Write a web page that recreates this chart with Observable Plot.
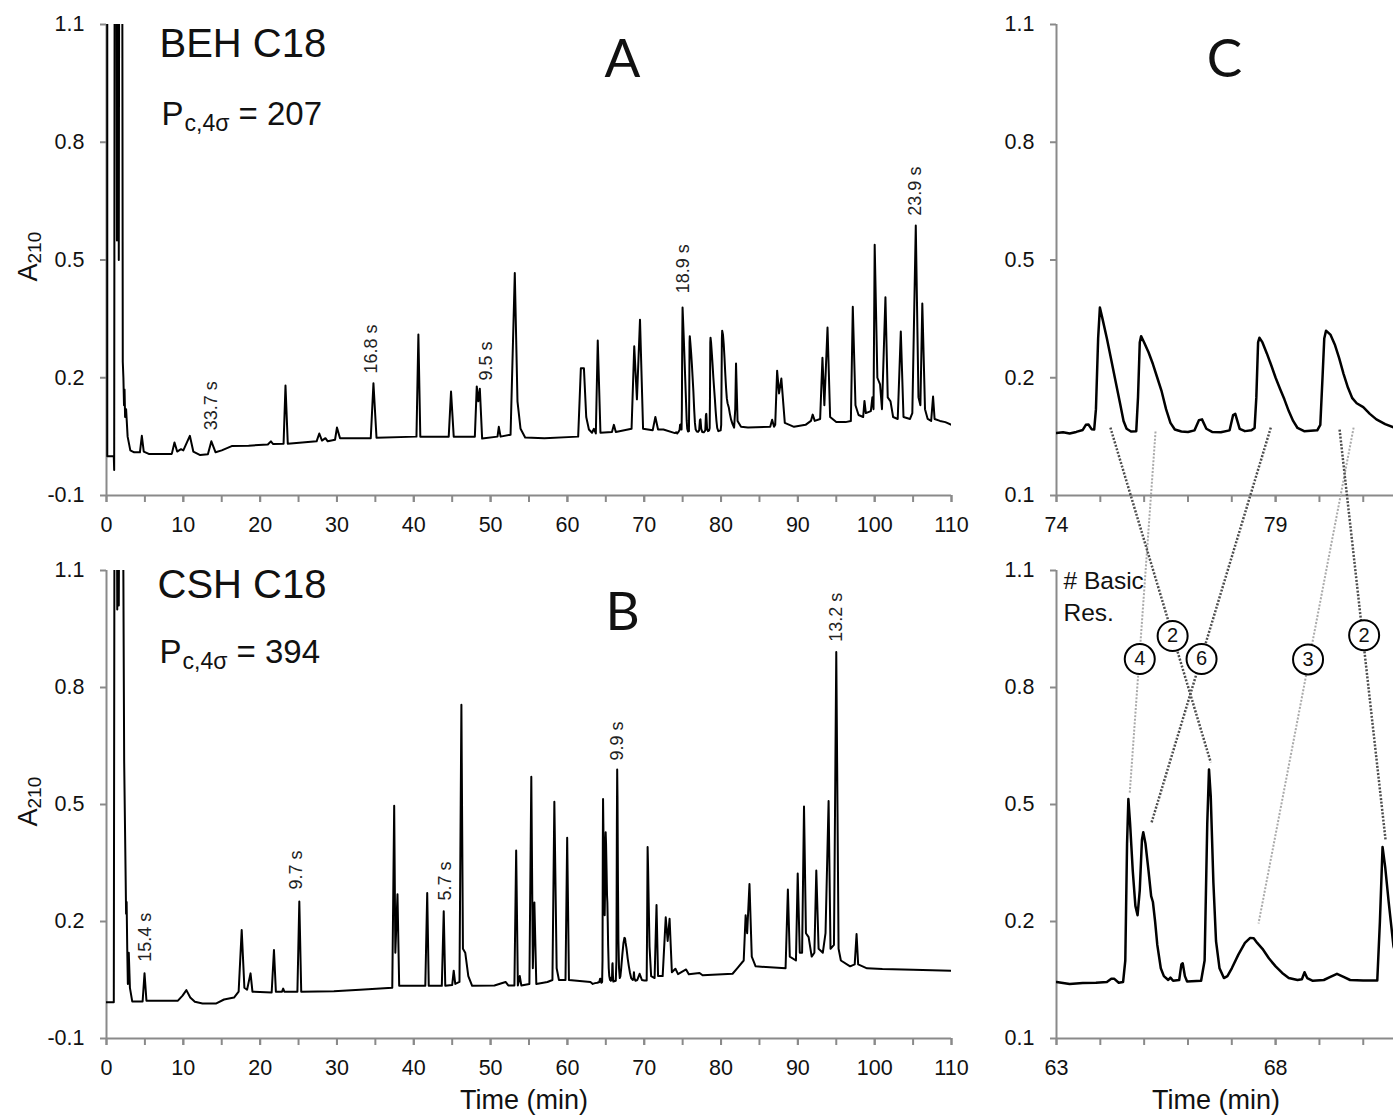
<!DOCTYPE html>
<html>
<head>
<meta charset="utf-8">
<script src="https://cdn.jsdelivr.net/npm/d3@7"></script>
<script src="https://cdn.jsdelivr.net/npm/@observablehq/plot@0.6"></script>
<style>
html, body { margin: 0; padding: 0; background: #fff; overflow: hidden; }
#fig { position: relative; width: 1393px; height: 1116px; overflow: hidden; background: #fff; }
.panel { position: absolute; }
</style>
</head>
<body>
<div id="fig"></div>
<script>
// ---------------- DATA ----------------
// BEH C18 chromatogram (panel A, and zoom in panel C): [time (min), A210]
const behTrace = [
[0.1,1.3],[0.1,0.0],[0.95,0.0],[1.0,-0.035],[1.06,1.3],[1.3,1.3],[1.36,0.55],[1.42,1.3],[1.55,1.3],[1.6,0.5],[1.65,1.3],[2.05,1.3],[2.12,0.24],[2.2,0.2],[2.28,0.13],[2.35,0.17],[2.42,0.1],[2.55,0.12],[2.75,0.05],[3.1,0.015],[3.6,0.01],[4.35,0.01],[4.6,0.052],[4.85,0.012],[5.5,0.006],[8.5,0.006],[8.85,0.035],[9.2,0.012],[9.7,0.018],[10.0,0.015],[10.85,0.052],[11.3,0.012],[12.2,0.003],[13.2,0.005],[13.65,0.038],[14.2,0.01],[15.0,0.015],[16.3,0.026],[18.5,0.027],[21.0,0.03],[21.4,0.038],[21.7,0.031],[23.05,0.032],[23.3,0.18],[23.6,0.032],[27.35,0.038],[27.7,0.058],[28.05,0.04],[28.5,0.046],[28.8,0.038],[29.75,0.042],[30.0,0.073],[30.4,0.046],[34.4,0.046],[34.75,0.186],[35.15,0.047],[40.35,0.05],[40.6,0.31],[40.85,0.05],[44.55,0.05],[44.85,0.165],[45.2,0.05],[47.95,0.05],[48.2,0.178],[48.4,0.14],[48.6,0.172],[48.9,0.045],[50.9,0.05],[51.07,0.075],[51.3,0.05],[52.6,0.055],[53.15,0.467],[53.5,0.14],[53.9,0.07],[54.5,0.048],[57.0,0.046],[61.4,0.05],[61.75,0.224],[62.15,0.224],[62.45,0.1],[62.8,0.068],[63.2,0.06],[63.45,0.07],[63.7,0.058],[63.95,0.295],[64.3,0.06],[65.8,0.062],[66.05,0.08],[66.3,0.062],[68.35,0.07],[68.7,0.28],[69.05,0.145],[69.45,0.348],[69.85,0.07],[71.1,0.066],[71.45,0.1],[71.8,0.068],[72.5,0.068],
[74.0,0.059],[74.15,0.061],[74.3,0.058],[74.45,0.062],[74.6,0.067],[74.67,0.08],[74.73,0.081],[74.8,0.069],[74.86,0.068],[74.9,0.12],[74.95,0.3],[74.99,0.379],[75.05,0.35],[75.15,0.3],[75.25,0.245],[75.35,0.19],[75.45,0.135],[75.53,0.09],[75.6,0.07],[75.7,0.063],[75.82,0.064],[75.86,0.15],[75.9,0.29],[75.93,0.306],[76.0,0.29],[76.1,0.265],[76.2,0.235],[76.3,0.2],[76.4,0.165],[76.5,0.12],[76.6,0.085],[76.7,0.068],[76.85,0.063],[77.0,0.062],[77.15,0.066],[77.25,0.092],[77.32,0.094],[77.42,0.07],[77.55,0.062],[77.75,0.061],[77.95,0.066],[78.03,0.105],[78.08,0.108],[78.18,0.07],[78.3,0.064],[78.45,0.066],[78.52,0.072],[78.56,0.15],[78.6,0.29],[78.63,0.302],[78.7,0.29],[78.8,0.262],[78.9,0.232],[79.0,0.2],[79.1,0.172],[79.2,0.145],[79.3,0.115],[79.4,0.09],[79.5,0.072],[79.65,0.064],[79.95,0.066],[80.02,0.08],[80.07,0.2],[80.11,0.3],[80.15,0.32],[80.25,0.31],[80.35,0.285],[80.45,0.25],[80.55,0.21],[80.65,0.175],[80.75,0.148],[80.85,0.135],[81.0,0.125],[81.15,0.108],[81.3,0.094],[81.5,0.082],[81.7,0.073],
[81.85,0.12],[81.95,0.236],[82.15,0.09],[82.6,0.075],[83.5,0.073],[86.4,0.075],[86.65,0.093],[86.9,0.075],[87.05,0.08],[87.3,0.218],[87.55,0.16],[87.85,0.198],[88.3,0.085],[89.5,0.075],[91.0,0.08],[91.7,0.09],[91.93,0.106],[92.2,0.09],[92.9,0.095],[93.2,0.251],[93.45,0.13],[93.86,0.328],[94.2,0.1],[95.0,0.087],[96.2,0.087],[96.9,0.09],[97.15,0.381],[97.5,0.13],[97.9,0.105],[98.5,0.1],[98.67,0.141],[98.85,0.11],[99.5,0.115],[99.7,0.15],[99.85,0.12],[100.0,0.539],[100.35,0.2],[100.7,0.183],[100.95,0.12],[101.4,0.405],[101.7,0.15],[102.06,0.14],[102.4,0.1],[103.0,0.095],[103.4,0.318],[103.75,0.1],[104.6,0.095],[104.9,0.11],[105.35,0.588],[105.7,0.15],[105.95,0.13],[106.2,0.389],[106.55,0.12],[106.9,0.095],[107.35,0.09],[107.6,0.152],[107.8,0.095],[108.5,0.09],[109.2,0.087],[110.0,0.08]
];

// CSH C18 chromatogram (panel B, and zoom in panel D): [time (min), A210]
const cshTrace = [
[0,-0.007],[0.95,-0.007],[1.04,1.3],[1.35,1.3],[1.4,1.0],[1.45,1.3],[1.55,1.3],[1.6,1.01],[1.65,1.3],[2.15,1.3],[2.3,0.61],[2.5,0.3],[2.55,0.22],[2.62,0.25],[2.7,0.13],[2.78,0.04],[2.9,0.12],[3.05,0.03],[3.35,-0.005],[4.7,-0.005],[4.95,0.067],[5.2,-0.003],[9.3,-0.003],[9.9,0.01],[10.4,0.024],[10.9,0.005],[11.5,-0.006],[12.5,-0.01],[14.3,-0.01],[15.3,0.0],[16.6,0.005],[17.2,0.02],[17.6,0.178],[17.95,0.03],[18.3,0.025],[18.75,0.067],[19.0,0.02],[21.5,0.018],[21.8,0.127],[22.05,0.02],[22.85,0.02],[23.0,0.028],[23.15,0.02],[24.85,0.02],[25.1,0.251],[25.35,0.02],[29.6,0.021],[33.0,0.025],[37.2,0.03],[37.45,0.497],[37.6,0.12],[37.88,0.27],[38.1,0.035],[41.5,0.035],[41.75,0.273],[41.95,0.035],[43.65,0.035],[43.9,0.226],[44.1,0.035],[45.0,0.037],[45.2,0.074],[45.4,0.04],[45.95,0.045],[46.2,0.756],[46.4,0.13],[46.7,0.12],[47.1,0.06],[47.6,0.035],[50.5,0.036],[51.95,0.045],[52.3,0.036],[53.1,0.036],[53.33,0.382],[53.55,0.036],[53.8,0.06],[54.0,0.036],[55.05,0.04],[55.3,0.571],[55.5,0.08],[55.7,0.249],[55.95,0.04],[57.4,0.045],[58.05,0.05],[58.3,0.507],[58.6,0.08],[58.9,0.05],[59.75,0.05],[59.97,0.415],[60.2,0.05],
[63.0,0.045],[63.3,0.04],[63.6,0.042],[63.9,0.043],[64.15,0.045],[64.25,0.053],[64.32,0.053],[64.42,0.043],[64.52,0.045],[64.57,0.1],[64.61,0.4],[64.64,0.514],[64.68,0.45],[64.74,0.33],[64.8,0.24],[64.85,0.216],[64.9,0.28],[64.95,0.41],[64.98,0.429],[65.03,0.4],[65.1,0.33],[65.16,0.265],[65.2,0.25],[65.25,0.2],[65.3,0.14],[65.38,0.08],[65.45,0.06],[65.55,0.05],[65.6,0.056],[65.66,0.048],[65.8,0.05],[65.85,0.09],[65.88,0.093],[65.93,0.06],[65.98,0.046],[66.3,0.048],[66.38,0.1],[66.44,0.45],[66.48,0.59],[66.52,0.52],[66.58,0.3],[66.64,0.15],[66.72,0.08],[66.82,0.055],[66.9,0.06],[67.0,0.08],[67.15,0.115],[67.3,0.145],[67.42,0.158],[67.5,0.157],[67.58,0.145],[67.7,0.13],[67.85,0.105],[68.0,0.085],[68.15,0.068],[68.3,0.055],[68.5,0.05],[68.6,0.052],[68.66,0.07],[68.72,0.055],[68.85,0.048],[69.1,0.05],[69.25,0.058],[69.4,0.066],[69.55,0.058],[69.7,0.05],[70.0,0.049],[70.32,0.049],[70.38,0.2],[70.44,0.391],[70.5,0.34],[70.58,0.25],[70.69,0.136],
[70.9,0.06],[71.35,0.055],[71.6,0.242],[71.8,0.06],[72.4,0.06],[72.8,0.211],[73.05,0.15],[73.3,0.207],[73.6,0.07],[74.06,0.079],[74.4,0.065],[75.45,0.077],[75.8,0.065],[77.2,0.068],[77.6,0.062],[81.5,0.066],[82.1,0.08],[82.95,0.1],[83.2,0.216],[83.4,0.17],[83.7,0.296],[84.0,0.11],[84.5,0.085],[88.4,0.08],[88.7,0.282],[88.95,0.11],[89.75,0.1],[89.98,0.323],[90.25,0.12],[90.55,0.12],[90.8,0.495],[91.05,0.17],[91.4,0.16],[91.8,0.11],[92.15,0.12],[92.4,0.331],[92.7,0.13],[93.25,0.12],[93.6,0.17],[94.0,0.509],[94.25,0.13],[94.7,0.14],[95.0,0.891],[95.3,0.13],[95.6,0.1],[96.8,0.085],[97.4,0.09],[97.64,0.168],[97.85,0.09],[99.0,0.08],[101.0,0.078],[105.0,0.076],[110.0,0.074]
];

// Peak-width annotations
const aPeakLabels = ["33.7 s", "16.8 s", "9.5 s", "18.9 s", "23.9 s"];
const aPeakTime   = [13.67, 34.4, 49.4, 75.1, 105.3];
const aPeakA210   = [0.066, 0.211, 0.193, 0.415, 0.613];
const bPeakLabels = ["15.4 s", "9.7 s", "5.7 s", "9.9 s", "13.2 s"];
const bPeakTime   = [5.08, 24.75, 44.1, 66.5, 95.0];
const bPeakA210   = [0.097, 0.282, 0.254, 0.613, 0.917];

// Connectors between zoomed BEH (C) and CSH (D) peaks, with # basic residues
const connCTime = [75.23, 76.26, 78.89, 80.78, 80.46];
const connCA210 = [0.073, 0.063, 0.073, 0.073, 0.068];
const connDTime = [66.52, 64.67, 65.17, 67.61, 70.51];
const connDA210 = [0.608, 0.528, 0.454, 0.195, 0.408];
const connTone  = ["dark", "light", "dark", "light", "dark"];
const basicResLabels = ["2", "4", "6", "3", "2"];
const basicResTime   = [65.65, 64.90, 66.31, 68.74, 70.02];
const basicResA210   = [0.932, 0.873, 0.873, 0.872, 0.934];

// Axes / ticks
const yDomain = [-0.1, 1.1];
const yTicks = [-0.1, 0.2, 0.5, 0.8, 1.1];
const yTickLabelsLeft  = ["-0.1", "0.2", "0.5", "0.8", "1.1"];
const yTickLabelsRight = ["0.1", "0.2", "0.5", "0.8", "1.1"];
const abDomain = [0, 110];
const abMinorTicks = [0,5,10,15,20,25,30,35,40,45,50,55,60,65,70,75,80,85,90,95,100,105,110];
const abMajorTicks = [0,10,20,30,40,50,60,70,80,90,100,110];
const cDomain = [74, 81.69];
const cMinorTicks = [74,75,76,77,78,79,80,81];
const cMajorTicks = [74, 79];
const dDomain = [63, 70.69];
const dMinorTicks = [63,64,65,66,67,68,69,70];
const dMajorTicks = [63, 68];

// ---------------- LAYOUT / STYLE ----------------
const FONT = "'Liberation Sans', Arial, Helvetica, sans-serif";
const LETTER_FONT = "Lato, 'Open Sans', sans-serif";
const AXIS_GRAY = "#8a8a8a";
const INK = "#111";
const TICK_FS = 21.5;

const LA = {left: 0,   top: 0,   width: 990, height: 545, ml: 106, mr: 39, mt: 24, mb: 50};
const LB = {left: 0,   top: 546, width: 990, height: 570, ml: 106, mr: 39, mt: 24, mb: 78};
const LC = {left: 960, top: 0,   width: 433, height: 545, ml: 96,  mr: 0,  mt: 24, mb: 50};
const LD = {left: 960, top: 546, width: 433, height: 570, ml: 96,  mr: 0,  mt: 24, mb: 78};

const T = (s, o) => Plot.text([s], {text: d => d, fill: INK, ...o});

function panel(L, o) {
  const rows = o.trace.map(([t, v]) => ({t, v}));
  return Plot.plot({
    width: L.width, height: L.height,
    marginLeft: L.ml, marginRight: L.mr, marginTop: L.mt, marginBottom: L.mb,
    style: `background: transparent; overflow: visible; max-width: none; font-family: ${FONT};`,
    x: {domain: o.xDomain, range: [L.ml, L.width - L.mr], label: null},
    y: {domain: yDomain, range: [L.height - L.mb, L.mt], label: null},
    marks: [
      Plot.ruleY([yDomain[0]], {stroke: AXIS_GRAY, strokeWidth: 2}),
      Plot.ruleX([o.xDomain[0]], {stroke: AXIS_GRAY, strokeWidth: 2}),
      Plot.axisX(o.xMinor, {tickSize: 7, tickFormat: () => "", stroke: AXIS_GRAY, strokeWidth: 2, label: null}),
      Plot.axisX(o.xMajor, {tickSize: 7, tickPadding: 14, fontSize: TICK_FS, stroke: AXIS_GRAY, strokeWidth: 2, fill: INK, tickFormat: d => String(d), label: null}),
      Plot.axisY(yTicks, {tickSize: 6, tickPadding: 16, fontSize: TICK_FS, stroke: AXIS_GRAY, strokeWidth: 2, fill: INK, tickFormat: d => o.yLabels[yTicks.indexOf(d)], label: null}),
      Plot.line(rows, {x: "t", y: "v", stroke: "#000", strokeWidth: o.lineWidth, strokeLinejoin: "round", clip: true}),
      ...o.extra
    ]
  });
}

function titleMarks(name, pc, x, nameBase, pBase) {
  const base = {frameAnchor: "top-left", textAnchor: "start", lineAnchor: "bottom"};
  return [
    T(name, {...base, dx: x, dy: nameBase, fontSize: 40}),
    T("P", {...base, dx: x + 2, dy: pBase, fontSize: 33}),
    T("c,4σ", {...base, dx: x + 25, dy: pBase + 6, fontSize: 23}),
    T("= " + pc, {...base, dx: x + 79, dy: pBase, fontSize: 33})
  ];
}
function yTitleMarks(dy) {
  return [
    T("A", {frameAnchor: "left", rotate: -90, textAnchor: "end", lineAnchor: "bottom", dx: -70, dy, fontSize: 27}),
    T("210", {frameAnchor: "left", rotate: -90, textAnchor: "start", lineAnchor: "bottom", dx: -66, dy, fontSize: 19})
  ];
}
function peakLabelMarks(labels, times, vals) {
  return Plot.text(labels, {x: (d, i) => times[i], y: (d, i) => vals[i], text: d => d, rotate: -90,
    textAnchor: "start", lineAnchor: "middle", fontSize: 18, fill: "#222"});
}
const letter = (s, dx, dy) => T(s, {frameAnchor: "top-left", textAnchor: "middle", lineAnchor: "bottom", dx, dy, fontSize: 53, fontFamily: LETTER_FONT});
const timeLabel = (dx) => T("Time (min)", {frameAnchor: "bottom", textAnchor: "middle", lineAnchor: "bottom", dx, dy: 70, fontSize: 27});

// connectors: convert C endpoints into D's coordinate system through the panels' scales
const scalesOf = (L, xd) => ({
  x: Plot.scale({x: {domain: xd, range: [L.ml, L.width - L.mr]}}),
  y: Plot.scale({y: {domain: yDomain, range: [L.height - L.mb, L.mt]}})
});
const sC = scalesOf(LC, cDomain), sD = scalesOf(LD, dDomain);
const connectors = connCTime.map((t, i) => {
  const px = LC.left + sC.x.apply(t) - LD.left;
  const py = LC.top + sC.y.apply(connCA210[i]) - LD.top;
  return {x1: sD.x.invert(px), y1: sD.y.invert(py), x2: connDTime[i], y2: connDA210[i], tone: connTone[i]};
});

// ---------------- PANELS ----------------
const svgA = panel(LA, {
  trace: behTrace, xDomain: abDomain, xMinor: abMinorTicks, xMajor: abMajorTicks, yLabels: yTickLabelsLeft, lineWidth: 2,
  extra: [
    peakLabelMarks(aPeakLabels, aPeakTime, aPeakA210),
    ...titleMarks("BEH C18", "207", 53, 32, 100),
    letter("A", 516, 52),
    ...yTitleMarks(3.5)
  ]
});
const svgB = panel(LB, {
  trace: cshTrace, xDomain: abDomain, xMinor: abMinorTicks, xMajor: abMajorTicks, yLabels: yTickLabelsLeft, lineWidth: 2,
  extra: [
    peakLabelMarks(bPeakLabels, bPeakTime, bPeakA210),
    ...titleMarks("CSH C18", "394", 51, 27, 92),
    letter("B", 516, 59),
    ...yTitleMarks(4),
    timeLabel(-5)
  ]
});
const svgC = panel(LC, {
  trace: behTrace, xDomain: cDomain, xMinor: cMinorTicks, xMajor: cMajorTicks, yLabels: yTickLabelsRight, lineWidth: 2.5,
  extra: [letter("C", 168, 52)]
});
const linkOpts = {x1: "x1", y1: "y1", x2: "x2", y2: "y2", strokeDasharray: "2,1.6"};
const svgD = panel(LD, {
  trace: cshTrace, xDomain: dDomain, xMinor: dMinorTicks, xMajor: dMajorTicks, yLabels: yTickLabelsRight, lineWidth: 2.5,
  extra: [
    T("# Basic\nRes.", {frameAnchor: "top-left", textAnchor: "start", lineAnchor: "top", lineHeight: 1.3, dx: 7, dy: -4, fontSize: 24.5}),
    Plot.link(connectors.filter(d => d.tone === "light"), {...linkOpts, stroke: "#aaaaaa", strokeWidth: 2}),
    Plot.link(connectors.filter(d => d.tone === "dark"), {...linkOpts, stroke: "#4d4d4d", strokeWidth: 2.5}),
    Plot.dot(basicResLabels, {x: (d, i) => basicResTime[i], y: (d, i) => basicResA210[i], r: 15, fill: "white", stroke: "#000", strokeWidth: 2}),
    Plot.text(basicResLabels, {x: (d, i) => basicResTime[i], y: (d, i) => basicResA210[i], text: d => d, fontSize: 20, fill: INK}),
    timeLabel(-9)
  ]
});

const fig = document.getElementById("fig");
function mount(L, svg) {
  const div = document.createElement("div");
  div.className = "panel";
  div.style.left = L.left + "px";
  div.style.top = L.top + "px";
  div.style.width = L.width + "px";
  div.style.height = L.height + "px";
  div.appendChild(svg);
  fig.appendChild(div);
}
mount(LA, svgA);
mount(LB, svgB);
mount(LC, svgC);
mount(LD, svgD);
</script>
</body>
</html>
